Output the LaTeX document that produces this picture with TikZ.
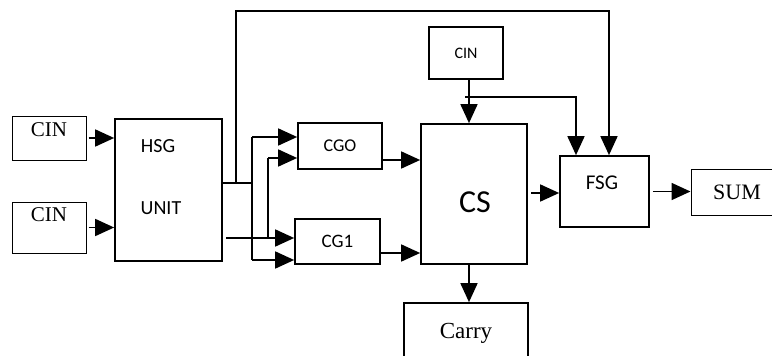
\documentclass[tikz,border=0pt]{standalone}
\usepackage{fontspec}
\setmainfont{Liberation Serif}
\newfontfamily\calib{Carlito}
\usetikzlibrary{arrows.meta,positioning,calc}
\tikzset{
  blk/.style={draw, line width=1.7pt, inner sep=0pt},
  inbox/.style={draw, line width=1pt, inner sep=0pt},
  wire/.style={line width=1.7pt},
  arr/.style={wire, -{Triangle[length=19pt,width=17pt]}},
  serif/.style={font=\fontsize{21}{24}\selectfont},
  sans/.style={font=\calib\fontsize{20}{24}\selectfont},
}

\begin{document}
\begin{tikzpicture}[x=1pt, y=-1pt]
  \useasboundingbox (0,0) rectangle (772,356);
  % blocks
  \node[inbox, minimum width=74pt, minimum height=44pt] (cinA) at (49,138) {};
  \node[serif] (cinAtxt) at (49,130) {CIN};
  \node[inbox, minimum width=74pt, minimum height=51pt] (cinB) at (49,227.5) {};
  \node[serif] (cinBtxt) at (49,215) {CIN};
  \node[blk, minimum width=107pt, minimum height=142pt] (hsg) at (168.5,190) {};
  \node[sans] (hsgtxt) at (158,146) {HSG};
  \node[sans] (unittxt) at (161,208) {UNIT};
  \node[blk, minimum width=84pt, minimum height=46pt, font=\calib\fontsize{18}{22}\selectfont] (cgo) at (340,146) {CGO};
  \node[blk, minimum width=85pt, minimum height=45pt, font=\calib\fontsize{19}{22}\selectfont] (cg1) at (337.5,241.5) {CG1};
  \node[blk, minimum width=74pt, minimum height=52pt, font=\calib\fontsize{16}{20}\selectfont] (cinC) at (466,53) {CIN};
  \node[blk, minimum width=106pt, minimum height=140pt] (cs) at (474,194) {};
  \node[font=\calib\fontsize{32}{36}\selectfont] (cstxt) at (475,202) {CS};
  \node[blk, minimum width=89pt, minimum height=71pt] (fsg) at (604.5,191.5) {};
  \node[font=\calib\fontsize{21}{24}\selectfont] (fsgtxt) at (602,183) {FSG};
  \node[inbox, minimum width=84pt, minimum height=46pt] (sum) at (733,192) {};
  \node[font=\fontsize{22}{26}\selectfont] (sumtxt) at (737,192) {SUM};
  \node[blk, minimum width=124pt, minimum height=57pt] (carry) at (466,331.5) {};
  \node[font=\fontsize{23}{26}\selectfont] (carrytxt) at (466,333) {Carry};

  % inputs
  \draw[arr, shorten <=2pt] (cinA.east) -- (cinA.east -| hsg.west);
  \draw[arr, shorten <=2pt] (cinB.east) -- (cinB.east -| hsg.west);

  % HSG outputs
  \coordinate (splitA) at (236,183);
  \coordinate (busA) at (252,183);
  \coordinate (busAtop) at (252,137);
  \coordinate (busAbot) at (252,260);
  \coordinate (busBtop) at (268,158);
  \coordinate (hsgO2) at (226,238);
  \coordinate (topL) at (236,11);
  \coordinate (topR) at (609,11);
  \draw[wire] (hsg.east |- splitA) -- (busA);
  \draw[wire] (busAtop) -- (busAbot);
  \draw[arr] (busAtop) -- (busAtop -| cgo.west);
  \draw[arr] (busAbot) -- (busAbot -| cg1.west);
  \draw[wire] (busBtop) -- (busBtop |- hsgO2);
  \draw[arr] (busBtop) -- (busBtop -| cgo.west);
  \draw[arr] (hsgO2) -- (hsgO2 -| cg1.west);
  \draw[arr] (splitA) -- (topL) -- (topR) -- (topR |- fsg.north);

  % into CS
  \coordinate (cgoO) at (382,160);
  \coordinate (cg1O) at (380,253);
  \draw[arr] (cgoO) -- (cgoO -| cs.west);
  \draw[arr] (cg1O) -- (cg1O -| cs.west);
  \coordinate (cinCo) at (469,79);
  \draw[arr] (cinCo) -- (cinCo |- cs.north);
  \coordinate (brA) at (465,97);
  \coordinate (brB) at (576,97);
  \draw[arr] (brA) -- (brB) -- (brB |- fsg.north);

  % outputs
  \coordinate (csO) at (531,193);
  \draw[arr] (csO) -- (csO -| fsg.west);
  \draw[arr, shorten <=3pt] (fsg.east) -- (fsg.east -| sum.west);
  \coordinate (csB) at (469,264);
  \draw[arr] (csB) -- (csB |- carry.north);
\end{tikzpicture}
\end{document}
